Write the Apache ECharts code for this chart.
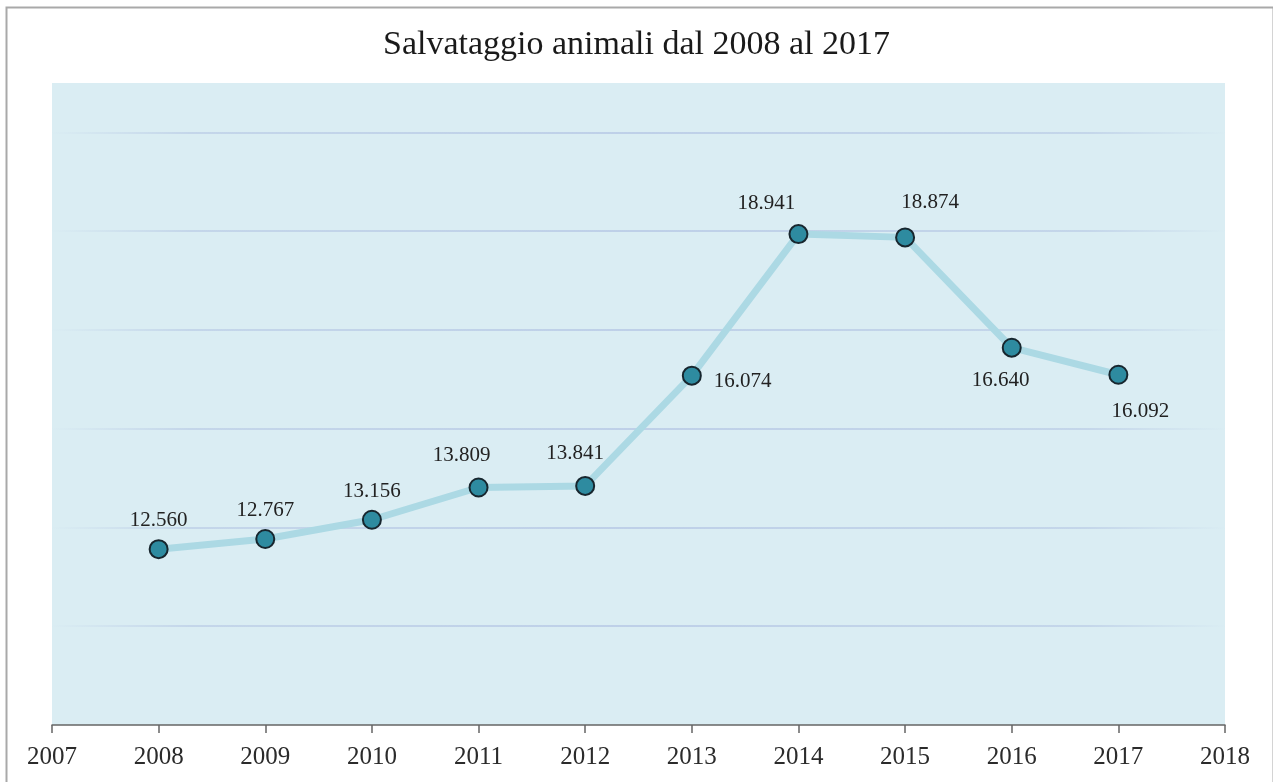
<!DOCTYPE html>
<html>
<head>
<meta charset="utf-8">
<title>Salvataggio animali dal 2008 al 2017</title>
<script src="https://cdn.jsdelivr.net/npm/echarts@6/dist/echarts.min.js"></script>
<style>
  html, body { margin: 0; padding: 0; background: #ffffff; }
  #chart { width: 1273px; height: 782px; }
</style>
</head>
<body>
<div id="chart"></div>
<script>
// Animal rescues per year
const years = [2008, 2009, 2010, 2011, 2012, 2013, 2014, 2015, 2016, 2017];
const rescues = [12560, 12767, 13156, 13809, 13841, 16074, 18941, 18874, 16640, 16092];
const yearTicks = [2007, 2018];
const valueRange = [9000, 22000];
const titleText = 'Salvataggio animali dal 2008 al 2017';

const SERIF = '"Liberation Serif", "Times New Roman", "DejaVu Serif", serif';

// Italian thousands separator: 12560 -> "12.560"
function fmt(v) {
  const th = Math.floor(v / 1000);
  const rest = String(v % 1000).padStart(3, '0');
  return th + '.' + rest;
}

// where each value label sits relative to its marker
const labelLayout = [
  { position: 'top', distance: 8, offset: [0, 0] },
  { position: 'top', distance: 8, offset: [0, 0] },
  { position: 'top', distance: 8, offset: [0, 0] },
  { position: 'top', distance: 12, offset: [-17, 0] },
  { position: 'top', distance: 12, offset: [-10, 0] },
  { position: 'right', distance: 12, offset: [0, 6] },
  { position: 'top', distance: 10, offset: [-32, 0] },
  { position: 'top', distance: 14, offset: [25, 0] },
  { position: 'bottom', distance: 12, offset: [-11, 0] },
  { position: 'bottom', distance: 16, offset: [22, 0] }
];

const seriesData = years.map((y, i) => ({
  value: [y, rescues[i]],
  label: labelLayout[i]
}));

// faint horizontal grid lines that fade out towards both ends
const gridFade = {
  type: 'linear', x: 0, y: 0, x2: 1, y2: 0,
  colorStops: [
    { offset: 0, color: 'rgba(192,210,232,0)' },
    { offset: 0.12, color: 'rgba(192,210,232,0.85)' },
    { offset: 0.5, color: 'rgba(190,208,232,1)' },
    { offset: 0.88, color: 'rgba(192,210,232,0.85)' },
    { offset: 1, color: 'rgba(192,210,232,0)' }
  ]
};
// ticks run 9000, 11000, ... 21000, 22000: no line on the first and last
const splitColors = ['rgba(0,0,0,0)', gridFade, gridFade, gridFade, gridFade, gridFade, gridFade, 'rgba(0,0,0,0)'];

const chart = echarts.init(document.getElementById('chart'), null, { renderer: 'canvas' });

chart.setOption({
  animation: false,
  backgroundColor: '#ffffff',
  title: {
    text: titleText,
    left: 'center',
    top: 23,
    textStyle: {
      fontFamily: SERIF,
      fontSize: 34,
      fontWeight: 'normal',
      color: '#1a1a1a'
    }
  },
  graphic: [
    {
      type: 'rect',
      left: 4, top: 5,
      shape: { width: 1267, height: 800 },
      style: { fill: 'none', stroke: '#a9a9a9', lineWidth: 2 },
      silent: true
    }
  ],
  grid: {
    left: 52,
    right: 48,
    top: 83,
    bottom: 57,
    show: true,
    backgroundColor: '#daedf3',
    borderWidth: 0
  },
  xAxis: {
    type: 'value',
    min: yearTicks[0],
    max: yearTicks[1],
    interval: 1,
    axisLine: { show: true, lineStyle: { color: '#666666', width: 1.5 } },
    axisTick: { show: true, length: 8, lineStyle: { color: '#666666', width: 1.5 } },
    axisLabel: {
      margin: 20,
      fontFamily: SERIF,
      fontSize: 25,
      color: '#2b2b2b',
      formatter: v => String(v)
    },
    splitLine: { show: false }
  },
  yAxis: {
    type: 'value',
    min: valueRange[0],
    max: valueRange[1],
    interval: 2000,
    axisLine: { show: false },
    axisTick: { show: false },
    axisLabel: { show: false },
    splitLine: { show: true, lineStyle: { color: splitColors, width: 2 } }
  },
  series: [
    {
      type: 'line',
      data: seriesData,
      symbol: 'circle',
      symbolSize: 18,
      lineStyle: { color: '#acd9e4', width: 7 },
      itemStyle: { color: '#2e8ba0', borderColor: '#17262e', borderWidth: 2 },
      label: {
        show: true,
        fontFamily: SERIF,
        fontSize: 21,
        color: '#222222',
        formatter: p => fmt(p.value[1])
      },
      z: 3
    }
  ]
});
</script>
</body>
</html>
